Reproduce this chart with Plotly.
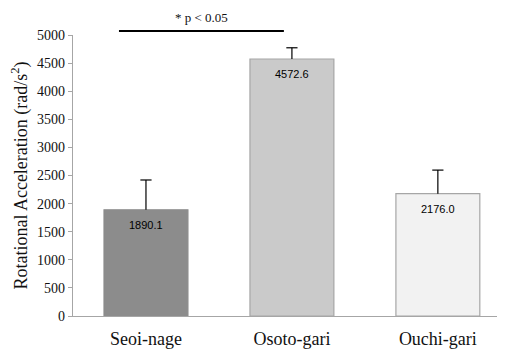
import plotly.graph_objects as go

categories = ["Seoi-nage", "Osoto-gari", "Ouchi-gari"]
means = [1890.1, 4572.6, 2176.0]
errors = [530, 200, 420]
labels = ["1890.1", "4572.6", "2176.0"]
fills = ["#8c8c8c", "#cacaca", "#f2f2f2"]
edges = ["#8c8c8c", "#a6a6a6", "#a6a6a6"]
y_ticks = [0, 500, 1000, 1500, 2000, 2500, 3000, 3500, 4000, 4500, 5000]

SERIF = "Liberation Serif, Times New Roman, serif"
SANS = "Liberation Sans, Arial, sans-serif"

fig = go.Figure()
fig.add_trace(go.Bar(
    x=categories, y=means, width=0.575,
    marker=dict(color=fills, line=dict(color=edges, width=1.2)),
    showlegend=False, hoverinfo="skip",
))

# error bars: upward stem + top cap
stem_x, stem_y = [], []
for c, m, e in zip(categories, means, errors):
    stem_x += [c, c, None]
    stem_y += [m, m + e, None]
fig.add_trace(go.Scatter(x=stem_x, y=stem_y, mode="lines",
                         line=dict(color="black", width=1.2), showlegend=False))
fig.add_trace(go.Scatter(x=categories, y=[m + e for m, e in zip(means, errors)],
                         mode="markers",
                         marker=dict(symbol="line-ew", size=8,
                                     line=dict(color="black", width=1.2)),
                         showlegend=False))

for c, m, t in zip(categories, means, labels):
    fig.add_annotation(x=c, y=m, text=t, showarrow=False, yanchor="middle",
                       yshift=-15, font=dict(family=SANS, size=11, color="black"))

fig.update_layout(
    width=497, height=345,
    margin=dict(l=65, r=0, t=27, b=37),
    paper_bgcolor="white", plot_bgcolor="white",
    font=dict(family=SERIF, color="#111"),
    xaxis=dict(range=[-0.5, 2.46], showline=True, linecolor="#a6a6a6", linewidth=1.2,
               ticks="", tickfont=dict(size=18, family=SERIF, color="#111"),
               ticklabelstandoff=6),
    yaxis=dict(range=[0, 5000], tickvals=y_ticks, showline=True, linecolor="#a6a6a6",
               linewidth=1.2, ticks="outside", ticklen=4, tickcolor="#a6a6a6",
               showgrid=False, zeroline=False,
               tickfont=dict(size=14, family=SERIF, color="#111"),
               title=dict(text="Rotational Acceleration (rad/s<sup>2</sup>)",
                          font=dict(size=18, family=SERIF, color="#111"),
                          standoff=6)),
    yaxis2=dict(range=[0, 5000], tickvals=y_ticks, overlaying="y", side="left",
                ticks="inside", ticklen=4, tickcolor="#a6a6a6", showticklabels=False,
                showgrid=False, zeroline=False, showline=False),
)

fig.add_shape(type="line", xref="x", yref="paper", x0=-0.185, x1=0.945,
              y0=1.0142, y1=1.0142, line=dict(color="black", width=2))
fig.add_annotation(xref="x", yref="paper", x=0.38, y=1.0605, yanchor="middle",
                   text="* p < 0.05", showarrow=False,
                   font=dict(size=13, family=SERIF, color="#111"))

fig.write_html("out.html")
